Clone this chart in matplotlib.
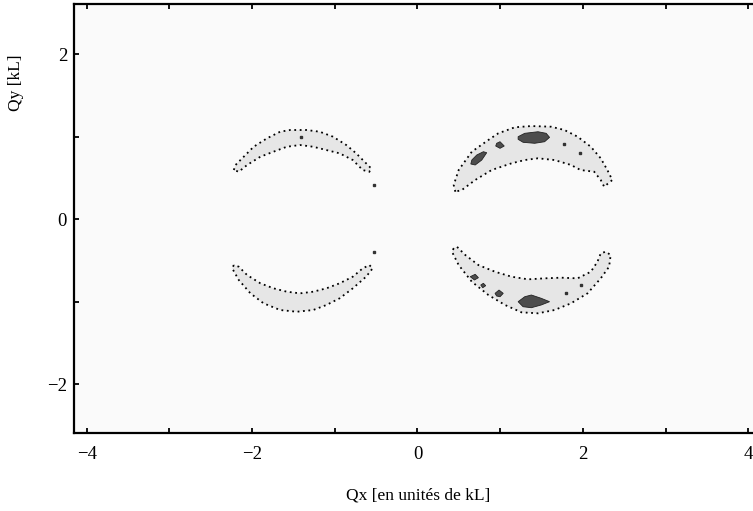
import matplotlib
matplotlib.use("Agg")
import matplotlib.pyplot as plt
import numpy as np

plt.rcParams['font.family'] = ['Liberation Serif', 'DejaVu Serif']

# ---------- crescent outlines (outer edge then inner edge), in kL units ----------
ur_qx = [0.458, 0.438, 0.498, 0.657, 0.857, 0.977, 1.177, 1.377, 1.616, 1.777, 1.936, 2.096,
         2.216, 2.296, 2.356, 2.257, 2.216, 2.137, 1.972, 1.856, 1.657, 1.457, 1.297, 1.137,
         0.897, 0.698, 0.537]
ur_qy = [0.331, 0.412, 0.594, 0.816, 0.958, 1.039, 1.112, 1.127, 1.119, 1.079, 0.998, 0.876,
         0.736, 0.594, 0.473, 0.392, 0.473, 0.573, 0.594, 0.655, 0.715, 0.736, 0.715, 0.675,
         0.594, 0.473, 0.352]

lr_qx = [0.438, 0.417, 0.498, 0.657, 0.857, 1.058, 1.257, 1.457, 1.657, 1.856, 2.056, 2.216,
         2.317, 2.336, 2.276, 2.216, 2.176, 2.096, 1.936, 1.736, 1.537, 1.337, 1.137, 0.938,
         0.737, 0.578, 0.477]
lr_qy = [-0.355, -0.396, -0.558, -0.760, -0.921, -1.042, -1.131, -1.143, -1.103, -1.022, -0.901,
         -0.719, -0.578, -0.436, -0.396, -0.416, -0.518, -0.639, -0.719, -0.711, -0.719, -0.731,
         -0.699, -0.639, -0.558, -0.436, -0.336]

ul_qx = [-2.221, -2.200, -2.101, -1.981, -1.820, -1.661, -1.541, -1.341, -1.181, -1.022, -0.861,
         -0.741, -0.621, -0.561, -0.582, -0.662, -0.782, -0.941, -1.101, -1.261, -1.421, -1.580,
         -1.741, -1.900, -2.060, -2.161]
ul_qy = [0.594, 0.655, 0.755, 0.876, 0.978, 1.058, 1.079, 1.079, 1.058, 0.998, 0.897, 0.796,
         0.675, 0.615, 0.573, 0.594, 0.715, 0.796, 0.836, 0.876, 0.897, 0.876, 0.816, 0.755,
         0.655, 0.573]

ll_qx = [-2.221, -2.240, -2.161, -2.020, -1.861, -1.661, -1.460, -1.261, -1.101, -0.941, -0.782,
         -0.621, -0.542, -0.582, -0.662, -0.782, -0.941, -1.101, -1.261, -1.421, -1.580, -1.741,
         -1.900, -2.060, -2.161]
ll_qy = [-0.558, -0.598, -0.739, -0.901, -1.022, -1.103, -1.124, -1.103, -1.042, -0.961, -0.840,
         -0.699, -0.598, -0.558, -0.598, -0.699, -0.779, -0.840, -0.881, -0.901, -0.881, -0.840,
         -0.779, -0.679, -0.578]

# ---------- high-intensity patches (dark level) ----------
blob1_qx = [1.217, 1.297, 1.457, 1.556, 1.597, 1.537, 1.417, 1.277, 1.217]
blob1_qy = [0.998, 1.039, 1.058, 1.039, 0.990, 0.937, 0.918, 0.930, 0.966]
blob2_qx = [0.958, 0.998, 1.049, 0.998, 0.946]
blob2_qy = [0.918, 0.937, 0.885, 0.857, 0.885]
blob3_qx = [0.657, 0.717, 0.797, 0.837, 0.777, 0.698, 0.645]
blob3_qy = [0.715, 0.776, 0.816, 0.804, 0.715, 0.655, 0.667]
blob4_qx = [1.217, 1.297, 1.377, 1.496, 1.597, 1.496, 1.377, 1.277]
blob4_qy = [-1.002, -0.942, -0.921, -0.961, -1.002, -1.042, -1.075, -1.063]
blob5_qx = [0.638, 0.698, 0.737, 0.689]
blob5_qy = [-0.699, -0.670, -0.711, -0.739]
blob6_qx = [0.765, 0.797, 0.825, 0.789]
blob6_qy = [-0.800, -0.779, -0.808, -0.833]
blob7_qx = [0.938, 0.986, 1.037, 0.998, 0.957]
blob7_qy = [-0.901, -0.861, -0.901, -0.942, -0.933]

# isolated specks
speck_qx = [1.777, 1.969, 1.976, 1.796, -1.409, -0.522, -0.522]
speck_qy = [0.905, 0.804, -0.800, -0.901, 0.998, 0.412, -0.396]

x_major = [-4, -2, 0, 2, 4]
x_minor = [-3, -1, 1, 3]
y_major = [-2, 0, 2]
y_minor = [-1, 1]

crescents = [(ur_qx, ur_qy), (lr_qx, lr_qy), (ul_qx, ul_qy), (ll_qx, ll_qy)]
blobs = [(blob1_qx, blob1_qy), (blob2_qx, blob2_qy), (blob3_qx, blob3_qy),
         (blob4_qx, blob4_qy), (blob5_qx, blob5_qy), (blob6_qx, blob6_qy),
         (blob7_qx, blob7_qy)]

fig = plt.figure(figsize=(7.53, 5.11), dpi=100)
ax = fig.add_axes([0.0983, 0.1526, 0.9017, 0.8395])
ax.set_facecolor('#fafafa')

for qx, qy in crescents:
    ax.fill(qx, qy, facecolor='#e6e6e6', edgecolor='black', linewidth=1.3,
            linestyle=(0, (1.0, 2.0)), zorder=2)
for qx, qy in blobs:
    ax.fill(qx, qy, facecolor='#4d4d4d', edgecolor='#222222', linewidth=0.6, zorder=3)
ax.plot(speck_qx, speck_qy, 's', color='#333333', markersize=2, zorder=4)

ax.set_xlim(-4.153, 4.057)
ax.set_ylim(-2.594, 2.606)

ax.set_xticks(x_major)
ax.set_xticks(x_minor, minor=True)
ax.set_yticks(y_major)
ax.set_yticks(y_minor, minor=True)
ax.set_xticklabels([f'\u2212{abs(v)}' if v < 0 else str(v) for v in x_major])
ax.set_yticklabels([f'\u2212{abs(v)}' if v < 0 else str(v) for v in y_major])

ax.tick_params(which='both', direction='in', top=True, right=False, length=3.5, width=1.3,
               color='black')
ax.tick_params(axis='x', which='major', labelsize=13.5, pad=9.5)
ax.tick_params(axis='y', which='major', labelsize=13.5, pad=5)

for side in ['left', 'bottom', 'top']:
    ax.spines[side].set_linewidth(1.6)
ax.spines['right'].set_visible(False)

ax.set_xlabel('Qx [en unités de kL]', fontsize=12.5)
ax.set_ylabel('Qy [kL]', fontsize=12.5)
ax.xaxis.set_label_coords(0.507, -0.127)
ax.yaxis.set_label_coords(-0.073, 0.816)

fig.savefig('out.png', dpi=100, facecolor='white')
